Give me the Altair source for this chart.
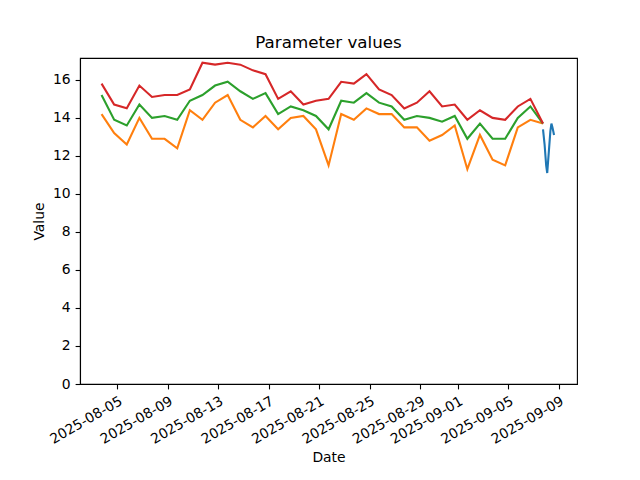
import altair as alt
import pandas as pd

# ---- data ----
daily_start = "2025-08-03 18:00"
upper = [15.8, 14.7, 14.5, 15.7, 15.1, 15.2, 15.2, 15.5, 16.9, 16.8, 16.9, 16.8,
         16.5, 16.3, 15.0, 15.4, 14.7, 14.9, 15.0, 15.9, 15.8, 16.3, 15.5, 15.2,
         14.5, 14.8, 15.4, 14.6, 14.7, 13.9, 14.4, 14.0, 13.9, 14.6, 15.0, 13.7]
middle = [15.2, 13.9, 13.6, 14.7, 14.0, 14.1, 13.9, 14.9, 15.2, 15.7, 15.9, 15.4,
          15.0, 15.3, 14.2, 14.6, 14.4, 14.1, 13.4, 14.9, 14.8, 15.3, 14.8, 14.6,
          13.9, 14.1, 14.0, 13.8, 14.1, 12.9, 13.7, 12.9, 12.9, 14.0, 14.6, 13.7]
lower = [14.2, 13.2, 12.6, 14.0, 12.9, 12.9, 12.4, 14.4, 13.9, 14.8, 15.2, 13.9,
         13.5, 14.1, 13.4, 14.0, 14.1, 13.4, 11.5, 14.2, 13.9, 14.5, 14.2, 14.2,
         13.5, 13.5, 12.8, 13.1, 13.6, 11.3, 13.1, 11.8, 11.5, 13.5, 13.9, 13.7]
recent_dates = ["2025-09-07 18:00", "2025-09-07 21:00", "2025-09-08 00:00",
                "2025-09-08 02:00", "2025-09-08 05:00", "2025-09-08 08:00",
                "2025-09-08 10:00", "2025-09-08 12:00", "2025-09-08 15:00"]
recent = [13.4, 12.6, 11.5, 11.1, 12.2, 13.3, 13.7, 13.5, 13.1]

x_ticks = ["2025-08-05", "2025-08-09", "2025-08-13", "2025-08-17", "2025-08-21",
           "2025-08-25", "2025-08-29", "2025-09-01", "2025-09-05", "2025-09-09"]
y_ticks = [0, 2, 4, 6, 8, 10, 12, 14, 16]

series_names = ["recent", "lower", "middle", "upper"]
series_colors = ["#1f77b4", "#ff7f0e", "#2ca02c", "#d62728"]

# ---- build table ----
daily = pd.date_range(daily_start, periods=len(upper), freq="D")
frames = [pd.DataFrame({"Date": pd.to_datetime(recent_dates), "Value": recent, "series": "recent", "k": 0})]
for i, (name, vals) in enumerate([("lower", lower), ("middle", middle), ("upper", upper)]):
    frames.append(pd.DataFrame({"Date": daily, "Value": vals, "series": name, "k": i + 1}))
df = pd.concat(frames, ignore_index=True)
df["Date"] = df["Date"].dt.strftime("%Y-%m-%dT%H:%M:%S")


def dt(s):
    t = pd.Timestamp(s)
    return alt.DateTime(year=t.year, month=t.month, date=t.day, hours=t.hour, minutes=t.minute)


x_domain = [dt("2025-08-02 01:00"), dt("2025-09-10 10:40")]

chart = alt.Chart(df).mark_line(strokeWidth=2.1, clip=True).encode(
    x=alt.X("Date:T",
            scale=alt.Scale(domain=x_domain, nice=False),
            axis=alt.Axis(values=[dt(t) for t in x_ticks], format="%Y-%m-%d",
                          labelAngle=-30, labelAlign="right", labelBaseline="top",
                          title="Date", titlePadding=4)),
    y=alt.Y("Value:Q",
            scale=alt.Scale(domain=[0, 17.15], nice=False, zero=False),
            axis=alt.Axis(values=y_ticks, title="Value", titlePadding=6)),
    color=alt.Color("series:N", scale=alt.Scale(domain=series_names, range=series_colors), legend=None),
    detail="series:N",
    order=alt.Order("k:Q"),
).properties(
    width=497, height=326,
    title=alt.TitleParams("Parameter values", fontSize=16.7, font="DejaVu Sans",
                          fontWeight="normal", color="black", anchor="middle",
                          baseline="alphabetic", offset=-7),
    autosize=alt.AutoSizeParams(type="none"),
    padding={"left": 72, "top": 50, "right": 40, "bottom": 86},
).configure_view(
    stroke="black", strokeWidth=1.1
).configure_axis(
    grid=False, domainColor="black", domainWidth=1.1, tickColor="black", tickWidth=1.1,
    tickSize=4.9, labelPadding=4.9, labelFont="DejaVu Sans", labelFontSize=13.9,
    labelColor="black", titleFont="DejaVu Sans", titleFontSize=13.9,
    titleFontWeight="normal", titleColor="black", labelFlush=False, labelOverlap=False,
).configure_axisY(labelAlign="right", labelBaseline="middle")

chart.save("out.html", embed_options={"renderer": "svg", "actions": False})
